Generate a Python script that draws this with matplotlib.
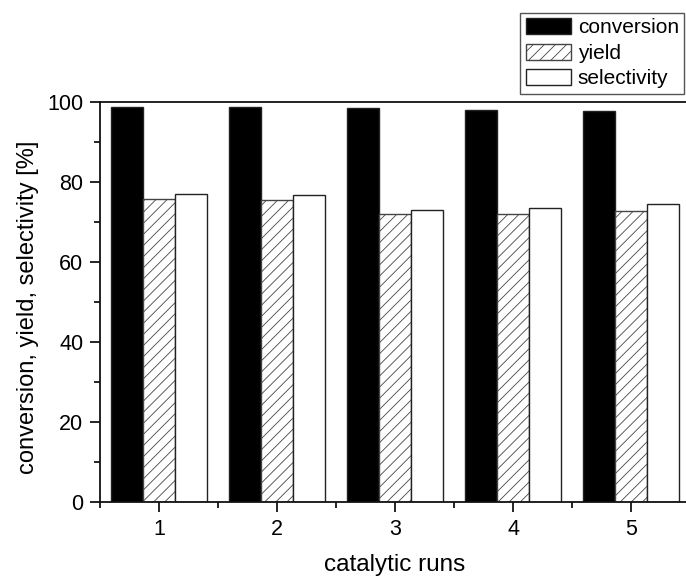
import matplotlib
matplotlib.use("Agg")
import matplotlib.pyplot as plt
import numpy as np
from matplotlib.ticker import MultipleLocator, FixedLocator

plt.rcParams['font.family'] = ['Liberation Sans', 'DejaVu Sans']
plt.rcParams['hatch.linewidth'] = 0.6
plt.rcParams['hatch.color'] = '#555555'

runs = [1, 2, 3, 4, 5]
conversion = [98.75, 98.6, 98.5, 97.9, 97.75]
yield_ = [75.75, 75.5, 71.85, 71.85, 72.75]
selectivity = [76.9, 76.75, 73.0, 73.5, 74.5]

W, H = 686, 576
fig = plt.figure(figsize=(W / 100, H / 100), dpi=100)
ax = fig.add_axes([100 / W, (H - 502) / H, 590 / W, 400.5 / H])

x = np.array(runs, dtype=float)
bw = 0.27
ax.bar(x - bw, conversion, bw, color='black', edgecolor='#222222', linewidth=1.0,
       label='conversion', zorder=2)
ax.bar(x, yield_, bw, color='white', edgecolor='#444444', hatch='///', linewidth=1.0,
       label='yield', zorder=2)
ax.bar(x + bw, selectivity, bw, color='white', edgecolor='#222222', linewidth=1.0,
       label='selectivity', zorder=2)

ax.set_xlim(0.5, 5.5)
ax.set_ylim(0, 100)
ax.xaxis.set_major_locator(FixedLocator(runs))
ax.xaxis.set_minor_locator(FixedLocator([0.5, 1.5, 2.5, 3.5, 4.5, 5.5]))
ax.yaxis.set_major_locator(MultipleLocator(20))
ax.yaxis.set_minor_locator(MultipleLocator(10))
ax.tick_params(which='major', direction='out', length=7, width=1.2, labelsize=15.5,
               pad=5, colors='black')
ax.tick_params(which='minor', direction='out', length=4, width=1.2)
for s in ax.spines.values():
    s.set_linewidth(1.3)
    s.set_color('#111111')

ax.set_xlabel('catalytic runs', fontsize=17.5, labelpad=10)
ax.set_ylabel('conversion, yield, selectivity [%]', fontsize=17)
ax.yaxis.set_label_coords(-0.104, 0.487)

fig.legend(loc='upper right', bbox_to_anchor=(684 / W, (H - 13) / H), fontsize=15,
           frameon=True, fancybox=False, edgecolor='#555555', framealpha=1,
           handlelength=2.2, handleheight=0.8, borderaxespad=0, borderpad=0.25,
           labelspacing=0.3, handletextpad=0.3)

fig.savefig('out.png', dpi=100)
